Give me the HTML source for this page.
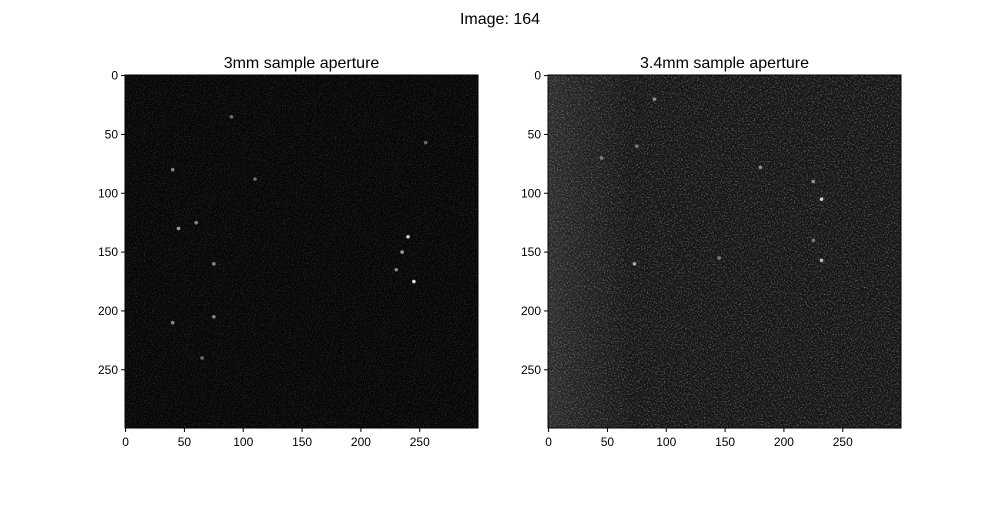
<!DOCTYPE html>
<html><head><meta charset="utf-8">
<style>
body{margin:0;background:#fff;}
svg text{font-family:"Liberation Sans",sans-serif;fill:#000;}
</style></head>
<body>
<svg id="fig" width="1000" height="500" xmlns="http://www.w3.org/2000/svg">
<defs>
<filter id="noiseL" x="0" y="0" width="100%" height="100%">
<feTurbulence type="fractalNoise" baseFrequency="0.9" numOctaves="2" seed="3"/>
<feColorMatrix type="matrix" values="0 0 0 0 1  0 0 0 0 1  0 0 0 0 1  2.4 0 0 0 -1.25"/>
</filter>
<filter id="noiseR" x="0" y="0" width="100%" height="100%">
<feTurbulence type="fractalNoise" baseFrequency="0.7" numOctaves="2" seed="7"/>
<feColorMatrix type="matrix" values="0 0 0 0 1  0 0 0 0 1  0 0 0 0 1  2.5 0 0 0 -1.15"/>
</filter>
<linearGradient id="bandGrad" x1="0" x2="1" y1="0" y2="0">
<stop offset="0" stop-color="#3a3a3a" stop-opacity="0.6"/>
<stop offset="0.6" stop-color="#2a2a2a" stop-opacity="0.4"/>
<stop offset="1" stop-color="#2a2a2a" stop-opacity="0"/>
</linearGradient>
</defs>
<text x="500" y="24" text-anchor="middle" font-size="16">Image: 164</text>
<g id="axes"></g>
</svg>
<script>
const xTicks=[0,50,100,150,200,250];
const yTicks=[0,50,100,150,200,250];
const imgSize=300;
// bright spots [x, y, intensity]
const spotsLeft=[[40,80,0.5],[45,130,0.6],[75,160,0.5],[60,125,0.5],[40,210,0.5],[75,205,0.5],[240,137,0.8],[245,175,0.9],[235,150,0.6],[230,165,0.5],[90,35,0.4],[65,240,0.4],[110,88,0.4],[255,57,0.4]];
const spotsRight=[[90,20,0.5],[45,70,0.4],[75,60,0.4],[232,105,0.8],[232,157,0.7],[180,78,0.5],[225,90,0.5],[73,160,0.6],[145,155,0.4],[225,140,0.4]];
const panels=[
 {x0:125,title:"3mm sample aperture",name:"left",bg:"#070707",filter:"noiseL",op:0.25,spots:spotsLeft,band:0},
 {x0:548,title:"3.4mm sample aperture",name:"right",bg:"#141414",filter:"noiseR",op:0.35,spots:spotsRight,band:1}
];
const y0=75, size=353;
const sc=v=>(v+0.5)*size/imgSize;
const NS="http://www.w3.org/2000/svg";
const g=document.getElementById('axes');
function mk(t,a,p){const e=document.createElementNS(NS,t);for(const k in a)e.setAttribute(k,a[k]);(p||g).appendChild(e);return e;}
panels.forEach(p=>{
 const grp=mk('g',{});
 
 
 const im=mk('rect',{x:p.x0,y:y0,width:size,height:size,fill:p.bg},grp);
 
 
 if(p.band){const b=mk('rect',{x:p.x0,y:y0,width:sc(70),height:size,fill:"url(#bandGrad)"},grp);
  }
 const n=mk('rect',{x:p.x0,y:y0,width:size,height:size,fill:"#fff",filter:"url(#"+p.filter+")",opacity:p.op},grp);
 
 p.spots.forEach(s=>{const c=mk('circle',{cx:p.x0+sc(s[0]),cy:y0+sc(s[1]),r:1.8,fill:"#fff",opacity:s[2]},grp);
  });
 const fr=mk('rect',{x:p.x0,y:y0,width:size,height:size,fill:"none",stroke:"#000","stroke-width":1},grp);
 
 const t=mk('text',{x:p.x0+size/2,y:68,"text-anchor":"middle","font-size":16},grp);t.textContent=p.title;
 
 xTicks.forEach(v=>{const x=p.x0+sc(v);
  mk('line',{x1:x,x2:x,y1:y0+size,y2:y0+size+4,stroke:"#000"},grp);
  const l=mk('text',{x:x,y:y0+size+18,"text-anchor":"middle","font-size":12},grp);l.textContent=v;
  });
 yTicks.forEach(v=>{const y=y0+sc(v);
  mk('line',{x1:p.x0-4,x2:p.x0,y1:y,y2:y,stroke:"#000"},grp);
  const l=mk('text',{x:p.x0-7,y:y+4,"text-anchor":"end","font-size":12},grp);l.textContent=v;
  });
});
</script>
</body></html>
